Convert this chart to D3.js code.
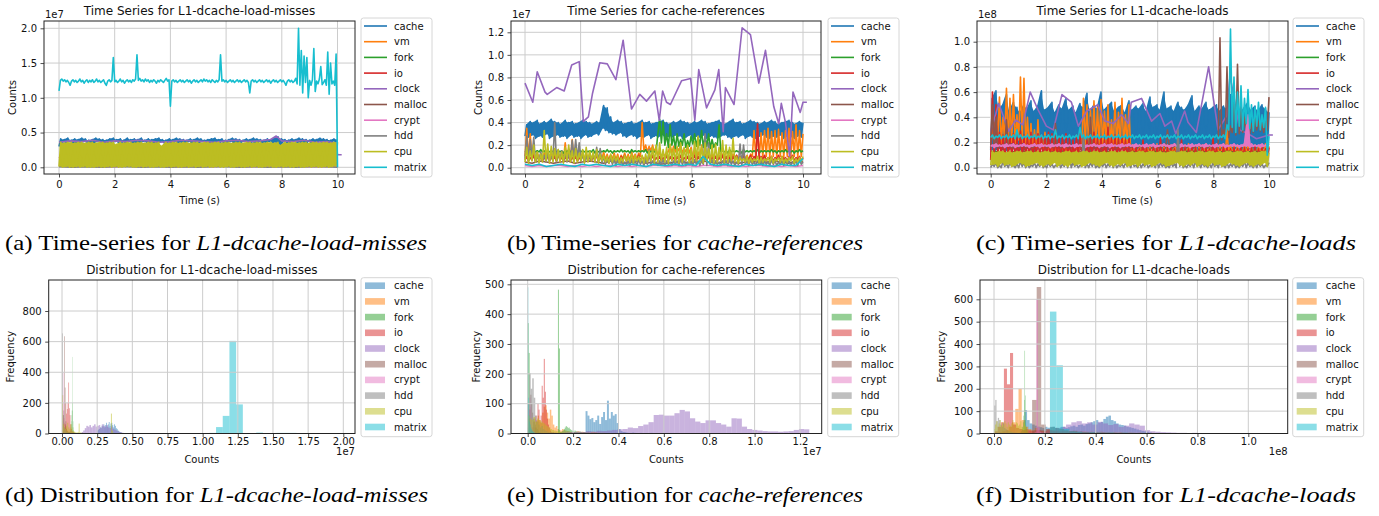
<!DOCTYPE html>
<html>
<head>
<meta charset="utf-8">
<script src="https://cdn.jsdelivr.net/npm/d3@7"></script>
<style>
  body { margin: 0; background: #fff; }
  svg text { font-family: "DejaVu Sans", sans-serif; fill: #111; }
  svg text.caption { font-family: "Liberation Serif", "Times New Roman", serif; font-size: 21px; fill: #000; }
</style>
</head>
<body>
<svg id="chalkboard" width="1379" height="516"></svg>
<script>
var seriesNames = ["cache", "vm", "fork", "io", "clock", "malloc", "crypt", "hdd", "cpu", "matrix"];
var seriesColors = ["#1f77b4", "#ff7f0e", "#2ca02c", "#d62728", "#9467bd", "#8c564b", "#e377c2", "#7f7f7f", "#bcbd22", "#17becf"];

// tick values
var timeTicks = [0, 2, 4, 6, 8, 10];
var missTicksY = [0, 0.5, 1.0, 1.5, 2.0];
var refTicksY = [0, 0.2, 0.4, 0.6, 0.8, 1.0, 1.2];
var loadTicksY = [0, 0.2, 0.4, 0.6, 0.8, 1.0];
var missHistTicksX = [0, 0.25, 0.5, 0.75, 1.0, 1.25, 1.5, 1.75, 2.0];
var missHistTicksY = [0, 200, 400, 600, 800];
var refHistTicksX = [0, 0.2, 0.4, 0.6, 0.8, 1.0, 1.2];
var refHistTicksY = [0, 100, 200, 300, 400, 500];
var loadHistTicksX = [0, 0.2, 0.4, 0.6, 0.8, 1.0];
var loadHistTicksY = [0, 100, 200, 300, 400, 500, 600];

/////  (a) L1-dcache-load-misses over time, units of 1e5 counts
// dense series are stored as the low / high edge of their band per sample
var missCacheHi = [41,40,42,39,41,40,42,41,39,40,42,41,40,39,41,42,40,41,39,42,40,41,40,42,39,41,40,41,42,40,39,41,40,42,41,40,39,41,40,42,41,39,40,41,42,40,41,39,40,42,41,40,39,41,40,42,41,40,39,41,40,42,44,41,40,39,41,40,42,41,40,39,41,40,42,41,40,39,41,40];
var missCacheLo = [30,36,35,37,28,36,35,37,36,30,35,37,36,35,29,36,37,35,36,34,37,30,36,35,37,36,35,28,36,37,35,36,30,37,35,36,35,37,29,36,35,37,36,35,30,37,36,35,36,37,31,35,36,37,35,36,29,37,35,36,37,35,36,30,37,35,36,37,35,36,28,37,35,36,37,35,36,30,37,36];
var missVm = [10,8,12,9,11,8,10,12,9,11,10,8,12,9,11,10,9,12,8,10,9];
var missFork = [7,8,7,7,8,7,8,8,7,7,8,7,8,7,7,8,7,8,8,7,7];
var missIo = [15,4,5,4,6,5,4,5,6,4,5,5,4,6,5,4,5,6,4,5,5];
var missClockT = [0,0.4,0.8,1.2,1.6,2.0,2.4,2.8,3.2,3.6,4.0,4.4,4.8,5.2,5.6,6.0,6.4,6.8,7.2,7.6,7.8,8.0,8.4,8.8,9.2,9.6,9.95,10.0,10.15];
var missClock = [36,38,37,39,36,38,37,39,38,36,37,39,38,37,36,38,39,37,38,40,45,38,37,39,36,37,35,18,18];
var missMalloc = [3,2,3,2,2,3,2,3,3,2,2,3,2,3,2,2,3,3,2,3,2];
var missCrypt = [2,1,2,1,1,2,1,2,1,1,2,1,2,1,1,2,1,2,1,1,2];
var missHdd = [1,0,1,0,1,1,0,1,0,1,0,1,1,0,1,0,1,0,1,1,0];
var missCpuHi = [36,35,36,36,35,36,36,35,36,36,35,36,36,35,36,36,33,36,35,36,36,35,36,36,35,36,36,35,36,31,36,35,36,36,35,36,36,35,36,36,35,36,36,35,36,36,35,36,36,35,36,36,35,36,36,35,36,36,35,36,36,35,36,32,36,35,36,36,35,36,36,35,36,36,35,36,36,35,36,36];
var missCpuLo = [1,0,1,0,0,1,0,1,0,0,0,1,0,0,1,0,1,0,0,1,1,0,0,1,0,1,0,0,1,0,0,1,0,1,0,0,1,0,1,0,1,0,1,0,0,1,0,0,1,0,0,1,0,0,1,0,1,0,0,1,1,0,0,1,0,1,0,0,1,0,0,1,0,1,0,0,1,0,1,2];
var missMatrix = [110,125,127,124,126,123,125,122,118,124,126,123,125,122,124,127,123,125,121,124,
  126,122,125,123,126,122,124,127,123,125,122,124,126,121,118,124,126,123,125,158,
  123,125,122,124,127,123,125,121,124,126,123,125,122,126,124,127,162,125,128,124,
  126,123,127,124,126,122,125,123,126,124,121,125,123,126,124,122,125,128,124,126,
  88,124,126,123,125,122,124,126,123,125,122,124,126,123,125,121,124,126,123,125,
  122,124,126,123,127,124,126,123,125,122,126,124,122,125,123,126,162,124,126,123,
  125,122,124,126,123,125,122,124,126,123,125,122,124,126,123,125,122,107,124,126,
  123,125,122,124,126,123,125,122,124,126,123,125,121,124,126,123,125,122,124,126,
  123,125,122,118,124,126,123,125,122,124,128,120,200,118,168,107,160,122,158,100,
  125,118,126,171,109,124,120,127,145,119,122,126,118,166,105,150,120,124,118,163,0];

/////  (b) cache-references over time, units of 1e5 counts
var refCacheHi = [38,41,40,42,39,41,40,43,41,40,39,42,40,41,39,40,42,41,40,39,41,40,55,53,45,40,42,41,39,40,41,39,40,42,40,41,39,40,41,42,40,39,41,40,42,41,40,39,41,40,42,41,39,40,41,42,40,39,41,43,40,41,39,40,42,41,40,39,41,40,42,41,39,40,41,42,40,39,41,40];
var refCacheLo = [28,27,29,26,28,27,30,26,28,29,27,28,26,29,27,28,26,29,27,28,30,29,35,33,31,30,29,31,28,27,29,28,26,28,27,29,26,28,27,29,26,28,27,29,28,26,27,29,26,28,27,29,26,28,27,26,28,29,27,26,28,27,29,26,28,27,26,28,29,27,26,28,27,29,26,28,27,26,28,27];
var refVmHi = [35,30,13,14,12,13,11,14,13,12,14,22,13,25,12,13,14,12,13,11,13,12,14,12,11,13,12,11,13,12,14,12,13,40,20,19,20,18,14,13,14,20,19,18,20,17,19,18,15,14,20,12,11,12,10,11,12,10,11,12,11,10,12,11,12,33,34,31,33,35,32,33,34,31,33,35,32,38,33,30];
var refVmLo = [10,8,7,6,8,7,6,8,7,6,8,7,6,8,7,6,8,7,6,8,7,6,8,7,6,8,7,6,8,7,6,8,7,10,15,14,15,14,10,9,10,14,13,14,15,13,14,13,9,8,9,8,7,8,7,8,7,8,7,8,7,8,7,8,7,10,9,10,9,10,9,10,9,10,9,10,9,10,9,10];
var refForkHi = [15,16,15,15,16,15,15,15,16,15,15,15,16,15,15,16,15,15,15,16,15,15,15,16,15,15,15,16,15,15,16,15,15,15,16,15,15,15,43,41,30,38,28,30,25,30,24,28,30,27,33,28,30,25,22,38,15,15,16,15,15,15,16,15,15,15,16,15,15,15,16,15,15,15,16,15,15,15,16,15];
var refForkLo = [14,14,13,14,14,14,13,14,14,14,14,13,14,14,14,13,14,14,14,14,13,14,14,14,14,13,14,14,14,14,13,14,14,14,14,13,14,14,30,22,20,18,20,17,19,20,18,19,21,19,20,18,19,17,18,20,14,14,13,14,14,14,13,14,14,14,14,13,14,14,14,14,13,14,14,14,14,13,14,14];
var refIoHi = [10,9,11,10,9,10,11,9,10,12,9,10,11,9,10,9,11,10,9,10,11,9,10,9,11,10,9,10,11,9,10,9,11,10,9,10,11,9,10,9,11,10,9,10,11,9,10,9,11,10,9,10,11,9,10,9,11,10,9,10,11,9,10,9,11,10,39,10,11,9,10,9,11,10,9,10,11,9,10,9];
var refIoLo = [7,6,7,6,7,6,7,6,7,6,7,6,7,6,7,6,7,6,7,6,7,6,7,6,7,6,7,6,7,6,7,6,7,6,7,6,7,6,7,6,7,6,7,6,7,6,7,6,7,6,7,6,7,6,7,6,7,6,7,6,7,6,7,6,7,6,7,6,7,6,7,6,7,6,7,6,7,6,7,6];
var refClockT = [0,0.28,0.44,0.72,0.8,1.14,1.41,1.68,1.95,2.1,2.28,2.43,2.69,2.96,3.27,3.53,3.83,4.13,4.37,4.67,4.83,4.95,5.09,5.23,5.63,5.96,6.11,6.25,6.53,6.83,6.97,7.13,7.21,7.52,7.81,8.11,8.41,8.65,8.95,9.13,9.22,9.37,9.52,9.64,9.9,10.0,10.14];
var refClock = [75,58,85,67,65,71,68,91,94,41,45,66,93,92,78,113,52,65,59,68,42,68,58,56,77,79,42,87,53,69,87,32,71,56,124,118,75,104,54,39,57,40,10,67,49,58,58];
var refMalloc = [5,4,6,5,4,5,6,4,5,6,5,4,6,5,4,5,6,4,5,3,4,5,6,4,5,6,5,4,6,5,4,5,6,4,5,6,5,4,6,5];
var refCrypt = [2,1,2,1,2,2,1,2,1,2,1,2,2,1,2,1,2,1,2,2,1,2,1,2,1,2,2,1,2,1,2,1,2,2,1,2,1,2,1,2];
var refHddHi = [28,25,27,12,14,11,13,10,40,16,15,14,12,24,25,22,12,10,11,12,18,17,10,9,8,7,8,6,5,6,7,6,7,6,7,16,6,5,6,7,6,5,6,6,7,6,5,6,7,6,6,30,22,7,6,5,6,6,7,6,5,21,20,6,7,5,6,7,6,5,7,6,5,6,7,6,5,6,7,5];
var refHddLo = [8,6,9,5,6,7,5,6,7,5,6,7,5,8,9,8,6,5,6,7,6,5,4,3,4,3,2,3,2,3,2,3,2,3,2,3,2,3,2,3,2,3,2,3,2,3,2,3,2,3,2,3,2,3,2,3,2,3,2,3,2,3,2,3,2,3,2,3,2,3,2,3,2,3,2,3,2,3,2,3];
var refCpuHi = [18,15,20,14,12,33,21,19,17,16,14,18,20,15,17,13,16,18,15,14,16,12,11,10,12,11,10,9,11,10,12,11,10,11,12,15,18,20,22,16,18,21,17,19,22,18,20,16,23,28,19,22,17,20,21,18,24,20,18,26,10,9,8,10,9,8,10,9,8,9,10,8,9,10,8,9,10,8,9,10];
var refCpuLo = [5,4,6,5,4,5,6,4,5,6,5,4,6,5,4,5,6,4,5,6,5,4,6,5,4,5,6,4,5,6,5,4,6,5,4,5,6,4,5,6,5,4,6,5,4,5,6,4,5,6,5,4,6,5,4,5,6,4,5,6,5,4,6,5,4,5,6,4,5,6,5,4,6,5,4,5,6,4,5,6];
var refMatrix = [3,2,3,1,2,3,2,1,3,2,3,2,1,3,2,3,2,1,3,2,2,3,2,3,2,10,3,2,3,2,1,3,2,3,2,1,3,2,2,8];

/////  (c) L1-dcache-loads over time, units of 1e6 counts
var loadCacheHi = [55,61,47,50,58,45,52,48,44,50,47,53,45,49,61,46,48,52,44,50,47,55,46,49,44,51,48,59,45,50,47,60,46,49,52,45,48,50,44,53,46,49,47,51,45,56,48,50,46,60,47,49,45,52,48,46,50,57,45,49,47,52,46,48,50,45,49,47,58,46,50,44,48,52,46,49,45,50,47,44];
var loadCacheLo = [14,13,15,14,13,14,15,13,14,13,15,14,13,14,15,13,14,13,15,14,13,14,15,13,14,13,15,14,13,14,15,13,14,13,15,14,13,14,15,13,14,13,15,14,13,14,15,13,14,13,15,14,13,14,15,13,14,13,15,14,13,14,15,13,14,13,15,14,13,14,15,13,14,13,15,14,13,14,15,13];
var loadVmHi = [30,45,56,40,63,55,58,42,72,71,40,35,30,38,25,28,18,17,18,17,18,17,18,17,19,18,55,50,46,53,48,54,45,50,38,52,44,55,42,50,18,17,18,19,17,18,17,19,18,17,18,17,19,18,17,18,19,17,18,17,18,19,17,18,17,18,19,30,18,17,18,17,19,18,17,18,17,18,19,17];
var loadVmLo = [20,18,22,19,21,18,20,19,22,20,18,15,12,11,10,11,10,11,10,9,10,11,10,9,10,11,15,18,16,17,15,18,16,17,15,16,18,17,15,16,10,11,10,9,10,11,10,9,10,11,10,9,10,11,10,9,10,11,10,9,10,11,10,9,10,11,10,9,10,11,10,9,10,11,10,9,10,11,10,9];
var loadFork = [13,12,13,13,12,13,12,13,13,12,13,12,13,12,13,13,12,13,12,13,12];
var loadIoHi = [60,50,28,26,30,25,27,24,29,26,25,28,24,27,26,25,28,27,26,24,25,27,23,22,26,30,25,22,24,28,23,25,22,32,24,26,23,25,22,24,16,18,15,22,16,15,18,16,24,15,16,17,15,18,22,16,15,17,16,15,18,16,15,24,16,15,17,16,15,16,15,17,16,15,16,17,15,16,15,16];
var loadIoLo = [6,5,7,6,5,6,7,5,6,5,7,6,5,6,7,5,6,5,7,6,5,6,7,5,6,5,7,6,5,6,7,5,6,5,7,6,5,6,7,5,6,5,7,6,5,6,7,5,6,5,7,6,5,6,7,5,6,5,7,6,5,6,7,5,6,5,7,6,5,6,7,5,6,5,7,6,5,6,7,5];
var loadClockT = [0,0.29,0.65,0.9,1.15,1.42,1.7,2.0,2.25,2.56,2.9,3.15,3.45,3.85,4.1,4.4,4.7,4.95,5.05,5.42,5.78,6.08,6.26,6.5,6.65,6.97,7.09,7.39,7.83,8.17,8.47,8.6,8.95,9.25,9.55,10.0,10.14];
var loadClock = [29,51,29,38,34,60,46,33,30,58,52,33,45,50,37,35,42,35,52,55,37,43,33,37,27,45,36,28,80,30,41,73,30,27,23,26,26];
var loadMallocHi = [50,40,18,17,38,18,17,18,17,18,17,18,17,18,17,18,17,18,35,18,17,18,17,18,17,18,17,18,40,18,17,18,17,18,17,18,17,18,17,18,17,18,17,18,17,18,17,18,17,18,30,18,17,18,17,18,17,18,17,18,17,18,17,18,17,103,30,80,33,60,82,50,40,38,35,40,37,36,39,56];
var loadMallocLo = [16,17,16,17,16,17,16,17,16,17,16,17,16,17,16,17,16,17,16,17,16,17,16,17,16,17,16,17,16,17,16,17,16,17,16,17,16,17,16,17,16,17,16,17,16,17,16,17,16,17,16,17,16,17,16,17,16,17,16,17,16,17,16,17,16,20,22,25,24,28,26,27,28,29,27,28,30,29,28,30];
var loadCryptHi = [18,19,18,18,19,18,19,18,18,19,18,18,19,18,19,18,18,19,18,19,18,19,18,18,19,18,19,18,18,19,18,18,19,18,19,18,18,19,18,19,18,19,18,18,19,18,19,18,18,19,18,18,19,18,19,18,18,19,18,19,18,19,18,18,19,18,19,18,18,19,18,18,19,42,19,18,18,19,18,19];
var loadCryptLo = [17,16,17,17,16,17,17,16,17,17,17,16,17,17,16,17,17,16,17,17,17,16,17,17,16,17,17,16,17,17,17,16,17,17,16,17,17,16,17,17,17,16,17,17,16,17,17,16,17,17,17,16,17,17,16,17,17,16,17,17,17,16,17,17,16,17,17,16,17,17,17,16,17,17,16,17,17,16,17,17];
var loadHddHi = [3,4,2,5,3,4,2,3,5,4,3,2,4,3,5,2,4,3,2,4,3,5,10,4,3,2,28,3,4,5,2,3,4,3,5,4,2,3,4,3,5,2,4,3,4,2,3,5,4,3,2,4,3,30,4,2,3,4,5,3,4,2,3,4,3,5,2,4,3,4,2,3,5,4,2,3,4,3,2,4];
var loadHddLo = [0,1,0,0,1,0,1,0,0,1,0,0,1,0,1,0,0,1,0,1,0,1,0,0,1,0,1,0,0,1,0,0,1,0,1,0,0,1,0,1,0,1,0,0,1,0,1,0,0,1,0,0,1,0,1,0,0,1,0,1,0,1,0,0,1,0,1,0,0,1,0,0,1,0,1,0,0,1,0,1];
var loadCpuHi = [13,12,13,13,12,13,12,13,13,12,13,13,12,13,12,13,13,12,13,12,12,13,13,12,13,12,13,13,12,13,13,12,13,12,13,13,12,13,13,12,13,12,13,13,12,13,13,12,13,12,12,13,13,12,13,13,12,13,12,13,13,12,13,13,12,13,12,13,13,12,13,13,12,13,12,13,12,13,13,12];
var loadCpuLo = [2,3,1,4,2,3,1,2,4,3,1,2,3,4,2,1,3,2,4,1,3,2,1,4,2,3,1,2,4,3,2,1,3,4,2,1,3,2,4,1,2,3,1,4,2,3,1,2,4,3,1,2,3,4,2,1,3,2,4,1,3,2,1,4,2,3,1,2,4,3,2,1,3,4,2,1,3,2,4,1];
var loadMatrixHi = [26,25,26,25,26,25,26,30,26,25,26,25,26,25,26,25,26,25,30,25,26,25,26,25,26,32,26,25,26,25,26,25,26,25,26,25,26,25,26,25,26,25,26,25,26,25,26,25,26,25,26,25,26,25,26,25,26,25,26,25,26,25,26,25,26,25,26,34,110,72,60,65,55,62,50,48,52,42,48,25];
var loadMatrixLo = [24,23,24,23,24,23,24,23,24,23,24,23,24,23,24,23,24,23,24,23,24,23,24,23,24,23,24,23,24,23,24,23,24,23,24,23,24,23,24,23,24,23,24,23,24,23,24,23,24,23,24,23,24,23,24,23,24,23,24,23,24,23,24,23,24,23,24,23,30,32,28,33,30,35,31,29,33,30,32,10];

/////  histograms: bin range per series (axis units) and bin frequencies
var missHistRanges = [[0.25,0.44],[0,0.1],[0.05,0.1],[0,0.15],[0.14,0.47],[0,0.25],[0,0.06],[0,0.35],[0,0.37],[0,2.0]];
var missCacheFreq = [20,25,30,40,35,50,45,60,40,55,70,45,60,75,50,65,70,55,40,60,50,35,30,20,15,10,8,5,3,2];
var missVmFreq = [40,80,120,100,70,60,50,40,30,20,15,10,8,6,5,4,3,3,2,2,2,1,1,1,1];
var missForkFreq = [5,8,10,15,20,30,40,60,80,120,150,200,500,150,80,40,20,10,8,5,4,3,2,1,1];
var missIoFreq = [5,10,20,30,60,200,130,160,200,333,165,120,60,30,15,10,8,5,4,3,2,2,1,1,1,1,1,1,1,2];
var missClockFreq = [10,20,35,50,45,55,40,50,60,45,50,55,40,60,50,45,55,40,35,45,30,25,20,15,10,8,5,3,2,2];
var missMallocFreq = [20,60,150,635,300,80,30,15,10,5,4,3,3,2,2,2,1,1,1,1,1,1,1,1,1,1,1,1,1,1,0,1,0,1,0,0,1,0,0,0,1,0,0,0,0,1,0,0,0,1];
var missCryptFreq = [50,120,250,400,200,100,50,30,20,10,8,5,4,3,2,2,1,1,1,1];
var missHddFreq = [654,120,40,20,15,10,8,5,4,3,3,2,2,2,1,1,1,1,1,1,1,1,1,1,1,1,1,1,0,1,0,1,0,1,0,0,1,0,0,0,1,0,0,0,1,0,0,0,0,1];
var missCpuFreq = [250,60,40,30,50,70,40,30,60,40,20,15,10,8,6,10,65,8,5,4,3,3,2,2,2,1,1,2,1,1,2,1,1,1,2,1,1,1,2,1,1,1,2,1,1,1,2,130,20,5];
var missMatrixFreq = [1,0,0,0,0,0,0,0,0,0,0,0,0,0,0,0,0,0,0,0,0,0,4,42,115,605,190,3,2,6,3,2,4,4,4,1,0,0,0,0,0,1];

var refHistRanges = [[0.255,0.555],[0.03,0.40],[0,0.43],[0.02,0.39],[0.098,1.241],[0,0.08],[0,0.04],[0,0.4],[0,0.33],[0,0.08]];
var refCacheFreq = [75,60,48,52,38,45,60,32,55,72,45,110,50,72,60,65,35,15,8,5,4,3,2,2,3,2,1,1,2,1,1,1,0,2,2];
var refVmFreq = [20,40,60,45,35,70,90,95,70,50,80,60,30,20,25,15,12,10,15,12,10,8,8,6,5,4,5,6,8,7,5,6,5,4,3,4,3,5,6,5,4,3,3,2,2,3,2,1,2,1,1,1,2,1,1];
var refForkFreq = [370,270,5,3,2,1,1,0,0,0,0,0,0,0,0,0,0,0,0,0,0,0,0,0,0,0,0,0,0,0,0,482,285,6,5,8,10,15,20,25,22,18,20,15,12,10,8,6,10,8,5,6,4,5,6,4,3,5,4,3,2,3,2,2,1,2,1,1,2,1,1,1,1,0,1,1,0,1,1,0,1,0,1,0,1,0,0,1,0,1,0,0,1,0,1,0,0,1,0,3];
var refIoFreq = [20,40,50,60,45,100,80,40,60,160,120,250,140,80,50,30,20,10,5,3,4,2,3,2,2,1,2,1,1,2,1,1,0,1,1,0,1,0,1,0,0,1,0,1,0,0,1,0,0,1,0,0,0,1,0,0,1,0,0,0,1,0,0,0,0,1,0,0,0,1,0,0,0,0,1,0,0,0,0,2];
var refClockFreq = [3,2,3,4,5,6,5,8,6,9,8,10,12,14,15,20,18,25,30,38,62,63,60,60,68,79,74,51,40,35,44,44,35,30,23,51,50,23,15,12,10,8,7,7,6,7,8,12,15,14];
var refMallocFreq = [20,50,80,130,100,70,50,40,30,20,15,10,5,4,3,2,2,1,1,1];
var refCryptFreq = [30,80,120,90,40,20,10,5,3,2];
var refHddFreq = [100,202,150,185,120,60,40,30,20,25,15,10,8,5,4,3,3,2,2,2,1,1,1,1,1,1,1,1,0,1,0,1,1,0,1,0,0,1,0,0,1,0,0,0,1,0,0,0,1,0,0,1,0,0,0,1,0,0,0,1];
var refCpuFreq = [60,50,45,55,40,50,45,40,35,30,25,20,15,12,10,8,6,5,4,3,3,2,2,2,1,1,1,1,1,1,1,1,1,1,1,1,1,1,1,2];
var refMatrixFreq = [490,120,60,40,30,20,15,10,8,5,4,3,2,2,1,1,1,1,1,0,1,0,1,0,1,0,0,1,0,1];

var loadHistRanges = [[0.12,0.62],[0.02,0.72],[0.1,0.14],[0.003,0.603],[0.18,0.8],[0.15,1.04],[0.16,0.42],[0,0.3],[0,0.135],[0.22,1.11]];
var loadCacheFreq = [105,60,45,40,35,30,28,25,30,26,28,30,25,22,27,30,25,28,32,35,30,38,40,35,42,45,50,55,60,48,52,65,75,80,60,55,45,40,38,35,30,28,25,22,18,15,12,10,8,5];
var loadVmFreq = [5,10,15,30,50,110,200,60,30,20,15,25,12,10,9,8,10,9,8,7,8,9,8,7,6,8,9,7,8,6,7,8,6,5,6,7,5,6,5,4,5,4,3,4,3,3,2,3,2,2,2,1,2,1,2];
var loadForkFreq = [2,3,5,8,12,20,30,50,80,150,370,170,60,30,20,10,5,3,2,1];
var loadIoFreq = [10,30,50,290,220,360,40,25,20,15,18,14,12,15,16,14,12,18,15,13,12,10,12,11,9,10,8,7,8,6,7,5,6,5,4,5,3,4,3,3,2,3,2,2,1,2,1,1,1,2];
var loadClockFreq = [5,8,10,25,30,40,50,55,45,50,40,52,45,38,42,30,35,45,40,35,15,10,8,6,5,4,3,3,2,3];
var loadMallocFreq = [150,655,40,20,30,25,20,15,10,12,8,6,5,4,4,3,3,2,2,2,2,2,1,1,1,1,1,1,1,0,1,1,0,1,0,1,1,0,0,1,0,0,0,0,1,0,0,0,0,1];
var loadCryptFreq = [5,600,30,8,4,3,2,2,1,1,1,1,1,0,1,0,1,0,0,1,0,0,1,0,0,0,1,0,0,0,1,0,0,0,0,1,0,0,0,1];
var loadHddFreq = [125,150,55,70,60,40,30,45,25,20,15,12,10,8,6,5,4,4,3,3,2,2,2,2,1,1,1,1,1,1,1,1,0,1,0,1,0,0,1,0,0,1,0,0,0,1,0,0,0,0,0,1,0,0,0,0,0,0,0,1];
var loadCpuFreq = [20,40,55,30,45,60,35,50,40,55,45,30,50,40,35,45,60,40,30,50,45,35,40,55,30,25,45,35,20,15];
var loadMatrixFreq = [545,305,20,10,8,5,6,5,4,5,3,4,3,2,3,2,2,1,2,1,1,1,1,1,1,2,1,1,0,0,1,1,0,0,1];

/////

var Config = {
  LineWidth: 1.6,
  BandWidth: 1.6,
  TickSize: 3.5,
  TickPad: 3.5,
  HistTickPad: 0.6,
  GridColor: "#cccccc",
  LegendRow: 15.7,
  LegendWidth: 71,
  HistAlpha: 0.5,
  Duration: 10,   // seconds on the time axis
  Unit: 100       // stored integers -> axis units
};

// solid: the band is so dense in the picture that it reads as a filled strip
var panels = [
  { kind: "line", title: "Time Series for L1-dcache-load-misses", box: [44, 21, 355, 174],
    xd: [0, 10], xr: [59, 337.5], yd: [0, 2], yr: [167.3, 28.3],
    xTicks: timeTicks, xFmt: "d", yTicks: missTicksY, yFmt: ".1f", offset: "1e7",
    xlabel: "Time (s)", ylabel: "Counts", ylabelX: 16, legendX: 361, legendY: 18, legendH: 159,
    series: [{ lo: missCacheLo, hi: missCacheHi, solid: true }, { v: missVm }, { v: missFork }, { v: missIo },
      { t: missClockT, v: missClock }, { v: missMalloc }, { v: missCrypt }, { v: missHdd },
      { lo: missCpuLo, hi: missCpuHi, solid: true }, { v: missMatrix }] },
  { kind: "line", title: "Time Series for cache-references", box: [511, 21, 821, 174],
    xd: [0, 10], xr: [525, 803], yd: [0, 1.2], yr: [167.7, 32.3],
    xTicks: timeTicks, xFmt: "d", yTicks: refTicksY, yFmt: ".1f", offset: "1e7",
    xlabel: "Time (s)", ylabel: "Counts", ylabelX: 481.5, legendX: 828, legendY: 18, legendH: 159,
    series: [{ lo: refCacheLo, hi: refCacheHi, solid: true }, { lo: refVmLo, hi: refVmHi }, { lo: refForkLo, hi: refForkHi },
      { lo: refIoLo, hi: refIoHi }, { t: refClockT, v: refClock }, { v: refMalloc }, { v: refCrypt },
      { lo: refHddLo, hi: refHddHi }, { lo: refCpuLo, hi: refCpuHi }, { v: refMatrix }] },
  { kind: "line", title: "Time Series for L1-dcache-loads", box: [977, 21, 1288, 174],
    xd: [0, 10], xr: [990.7, 1269], yd: [0, 1.0], yr: [167.7, 41.7],
    xTicks: timeTicks, xFmt: "d", yTicks: loadTicksY, yFmt: ".1f", offset: "1e8",
    xlabel: "Time (s)", ylabel: "Counts", ylabelX: 946.5, legendX: 1293, legendY: 18, legendH: 159,
    series: [{ lo: loadCacheLo, hi: loadCacheHi, solid: true }, { lo: loadVmLo, hi: loadVmHi }, { v: loadFork },
      { lo: loadIoLo, hi: loadIoHi }, { t: loadClockT, v: loadClock }, { lo: loadMallocLo, hi: loadMallocHi },
      { lo: loadCryptLo, hi: loadCryptHi, solid: true }, { lo: loadHddLo, hi: loadHddHi },
      { lo: loadCpuLo, hi: loadCpuHi, solid: true }, { lo: loadMatrixLo, hi: loadMatrixHi }] },
  { kind: "hist", title: "Distribution for L1-dcache-load-misses", box: [48.7, 280, 355, 433.5],
    xd: [0, 2], xr: [62, 343.3], yd: [0, 800], yr: [433.5, 311],
    xTicks: missHistTicksX, xFmt: ".2f", yTicks: missHistTicksY, yFmt: "d", offset: "1e7",
    xlabel: "Counts", ylabel: "Frequency", ylabelX: 13.5, legendX: 361, legendY: 277.7, legendH: 159,
    ranges: missHistRanges,
    series: [missCacheFreq, missVmFreq, missForkFreq, missIoFreq, missClockFreq, missMallocFreq,
      missCryptFreq, missHddFreq, missCpuFreq, missMatrixFreq] },
  { kind: "hist", title: "Distribution for cache-references", box: [511, 280, 821.7, 433.5],
    xd: [0, 1.2], xr: [527.7, 800], yd: [0, 500], yr: [433.5, 284.3],
    xTicks: refHistTicksX, xFmt: ".1f", yTicks: refHistTicksY, yFmt: "d", offset: "1e7",
    xlabel: "Counts", ylabel: "Frequency", ylabelX: 479.5, legendX: 827.7, legendY: 277.7, legendH: 159,
    ranges: refHistRanges,
    series: [refCacheFreq, refVmFreq, refForkFreq, refIoFreq, refClockFreq, refMallocFreq,
      refCryptFreq, refHddFreq, refCpuFreq, refMatrixFreq] },
  { kind: "hist", title: "Distribution for L1-dcache-loads", box: [980, 280, 1287.7, 433.5],
    xd: [0, 1.0], xr: [994, 1248.3], yd: [0, 600], yr: [433.5, 299.3],
    xTicks: loadHistTicksX, xFmt: ".1f", yTicks: loadHistTicksY, yFmt: "d", offset: "1e8",
    xlabel: "Counts", ylabel: "Frequency", ylabelX: 944.5, legendX: 1292.7, legendY: 277.7, legendH: 159,
    ranges: loadHistRanges,
    series: [loadCacheFreq, loadVmFreq, loadForkFreq, loadIoFreq, loadClockFreq, loadMallocFreq,
      loadCryptFreq, loadHddFreq, loadCpuFreq, loadMatrixFreq] }
];

var captions = [
  { x: 216, y: 250, width: 422, label: "(a) Time-series for ", metric: "L1-dcache-load-misses" },
  { x: 685, y: 250, width: 356, label: "(b) Time-series for ", metric: "cache-references" },
  { x: 1166, y: 250, width: 380, label: "(c) Time-series for ", metric: "L1-dcache-loads" },
  { x: 216.5, y: 502, width: 423, label: "(d) Distribution for ", metric: "L1-dcache-load-misses" },
  { x: 685, y: 502, width: 356, label: "(e) Distribution for ", metric: "cache-references" },
  { x: 1166, y: 502, width: 380, label: "(f) Distribution for ", metric: "L1-dcache-loads" }
];

var svg = d3.select("#chalkboard");
svg.append("rect").attr("width", 1379).attr("height", 516).attr("fill", "#fff");

/*
 s : one series, either a band (lo/hi), a sampled line (t/v) or evenly spaced values (v)
*/
function seriesPoints(s) {
  var pts = [];
  if (s.t) {
    s.t.forEach(function (t, i) { pts.push([t, s.v[i] / Config.Unit]); });
  } else if (s.lo) {
    var n = s.lo.length;
    s.lo.forEach(function (v, i) {
      pts.push([Config.Duration * 2 * i / (2 * n - 1), v / Config.Unit]);
      pts.push([Config.Duration * (2 * i + 1) / (2 * n - 1), s.hi[i] / Config.Unit]);
    });
  } else {
    var m = s.v.length;
    s.v.forEach(function (v, i) { pts.push([Config.Duration * i / (m - 1), v / Config.Unit]); });
  }
  return pts;
}

// lo/hi pairs of a band, for the filled strip under its zigzag
function bandRows(s) {
  var n = s.lo.length;
  return s.lo.map(function (v, i) {
    return { t: Config.Duration * (2 * i + 0.5) / (2 * n - 1), lo: v / Config.Unit, hi: s.hi[i] / Config.Unit };
  });
}

function drawGrid(g, p, x, y) {
  var b = p.box;
  g.selectAll(null).data(p.xTicks).enter().append("line")
    .attr("x1", function (d) { return x(d); }).attr("x2", function (d) { return x(d); })
    .attr("y1", b[1]).attr("y2", b[3])
    .attr("stroke", Config.GridColor).attr("stroke-width", 1);
  g.selectAll(null).data(p.yTicks).enter().append("line")
    .attr("y1", function (d) { return y(d); }).attr("y2", function (d) { return y(d); })
    .attr("x1", b[0]).attr("x2", b[2])
    .attr("stroke", Config.GridColor).attr("stroke-width", 1);
}

function drawLegend(p) {
  var lg = svg.append("g");
  lg.append("rect")
    .attr("x", p.legendX).attr("y", p.legendY)
    .attr("width", Config.LegendWidth).attr("height", p.legendH)
    .attr("rx", 2.5)
    .attr("fill", "#fff").attr("fill-opacity", 0.8)
    .attr("stroke", "#d6d6d6").attr("stroke-width", 1);

  seriesNames.forEach(function (name, i) {
    var cy = p.legendY + 8 + i * Config.LegendRow;
    if (p.kind == "line") {
      lg.append("line")
        .attr("x1", p.legendX + 3).attr("x2", p.legendX + 26)
        .attr("y1", cy).attr("y2", cy)
        .attr("stroke", seriesColors[i]).attr("stroke-width", Config.LineWidth);
    } else {
      lg.append("rect")
        .attr("x", p.legendX + 4).attr("y", cy - 3.3)
        .attr("width", 20).attr("height", 6.6)
        .attr("fill", seriesColors[i]).attr("fill-opacity", Config.HistAlpha);
    }
    lg.append("text")
      .attr("x", p.legendX + 33).attr("y", cy)
      .attr("dy", "0.35em")
      .attr("font-size", 10)
      .text(name);
  });
}

panels.forEach(function (p, k) {
  var b = p.box;
  var x = d3.scaleLinear().domain(p.xd).range(p.xr);
  var y = d3.scaleLinear().domain(p.yd).range(p.yr);

  svg.append("clipPath").attr("id", "clip-" + k)
    .append("rect")
    .attr("x", b[0]).attr("y", b[1])
    .attr("width", b[2] - b[0]).attr("height", b[3] - b[1]);

  var g = svg.append("g");
  var plot = g.append("g").attr("clip-path", "url(#clip-" + k + ")");

  if (p.kind == "line") {
    drawGrid(plot, p, x, y);
    var line = d3.line().x(function (d) { return x(d[0]); }).y(function (d) { return y(d[1]); });
    var area = d3.area()
      .x(function (d) { return x(d.t); })
      .y0(function (d) { return y(d.lo); })
      .y1(function (d) { return y(d.hi); });
    p.series.forEach(function (s, i) {
      if (s.solid) {
        plot.append("path")
          .attr("d", area(bandRows(s)))
          .attr("fill", seriesColors[i]);
      }
      plot.append("path")
        .attr("d", line(seriesPoints(s)))
        .attr("fill", "none")
        .attr("stroke", seriesColors[i])
        .attr("stroke-width", s.lo ? Config.BandWidth : Config.LineWidth)
        .attr("stroke-linejoin", "round");
    });
  } else {
    p.series.forEach(function (freq, i) {
      var lo = p.ranges[i][0], w = (p.ranges[i][1] - p.ranges[i][0]) / freq.length;
      plot.selectAll(null).data(freq).enter()
        .append("rect")
        .attr("x", function (d, j) { return x(lo + j * w); })
        .attr("width", function (d, j) { return x(lo + (j + 1) * w) - x(lo + j * w); })
        .attr("y", function (d) { return y(d); })
        .attr("height", function (d) { return y(0) - y(d); })
        .attr("fill", seriesColors[i])
        .attr("fill-opacity", Config.HistAlpha);
    });
    drawGrid(plot, p, x, y);
  }

  // frame
  g.append("rect")
    .attr("x", b[0]).attr("y", b[1])
    .attr("width", b[2] - b[0]).attr("height", b[3] - b[1])
    .attr("fill", "none").attr("stroke", "#222").attr("stroke-width", 1);

  // axes
  g.append("g")
    .attr("transform", "translate(0," + b[3] + ")")
    .call(d3.axisBottom(x).tickValues(p.xTicks).tickFormat(d3.format(p.xFmt))
      .tickSize(Config.TickSize).tickPadding(p.kind == "line" ? Config.TickPad : Config.HistTickPad))
    .call(function (a) {
      a.select(".domain").remove();
      a.attr("font-family", "DejaVu Sans").attr("font-size", 10);
      a.selectAll("line").attr("stroke", "#222").attr("stroke-width", 0.8);
    });
  g.append("g")
    .attr("transform", "translate(" + b[0] + ",0)")
    .call(d3.axisLeft(y).tickValues(p.yTicks).tickFormat(d3.format(p.yFmt))
      .tickSize(Config.TickSize).tickPadding(Config.TickPad))
    .call(function (a) {
      a.select(".domain").remove();
      a.attr("font-family", "DejaVu Sans").attr("font-size", 10);
      a.selectAll("line").attr("stroke", "#222").attr("stroke-width", 0.8);
    });

  // title and labels
  g.append("text")
    .attr("x", (b[0] + b[2]) / 2).attr("y", b[1] - 6)
    .attr("text-anchor", "middle").attr("font-size", 12)
    .text(p.title);

  g.append("text")
    .attr("x", (b[0] + b[2]) / 2).attr("y", p.kind == "line" ? b[3] + 30 : b[3] + 29)
    .attr("text-anchor", "middle").attr("font-size", 10)
    .text(p.xlabel);

  g.append("text")
    .attr("transform", "translate(" + p.ylabelX + "," + (b[1] + b[3]) / 2 + ") rotate(-90)")
    .attr("text-anchor", "middle").attr("font-size", 10)
    .text(p.ylabel);

  if (p.kind == "line") {
    g.append("text")
      .attr("x", b[0] + 1).attr("y", b[1] - 3)
      .attr("font-size", 10)
      .text(p.offset);
  } else {
    g.append("text")
      .attr("x", b[2]).attr("y", b[3] + 21.5)
      .attr("text-anchor", "end").attr("font-size", 10)
      .text(p.offset);
  }

  drawLegend(p);
});

// sub-figure captions
captions.forEach(function (c) {
  var t = svg.append("text")
    .attr("class", "caption")
    .attr("x", c.x).attr("y", c.y)
    .attr("text-anchor", "middle")
    .attr("textLength", c.width)
    .attr("lengthAdjust", "spacingAndGlyphs");
  t.append("tspan").text(c.label);
  t.append("tspan").attr("font-style", "italic").text(c.metric);
});
</script>
</body>
</html>
